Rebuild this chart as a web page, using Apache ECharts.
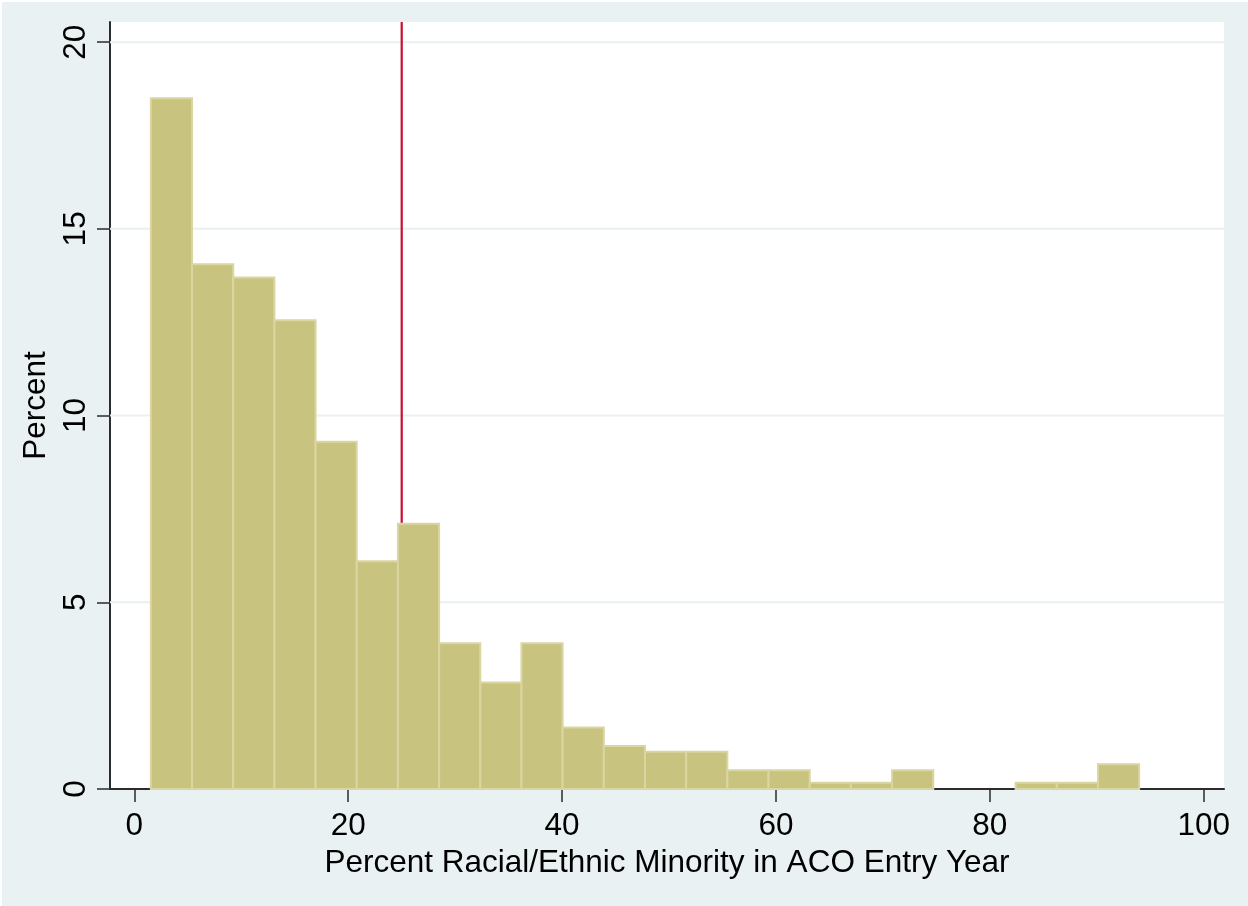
<!DOCTYPE html>
<html>
<head>
<meta charset="utf-8">
<script src="https://cdn.jsdelivr.net/npm/echarts@6/dist/echarts.min.js"></script>
<style>
  html, body { margin: 0; padding: 0; background: #ffffff; }
  #chart { position: absolute; left: 2px; top: 2px; width: 1246px; height: 904px; }
</style>
</head>
<body>
<div id="chart"></div>
<script>
// ---- data ----
const binStart = 1.54;          // lower edge of first bin
const binWidth = 3.851;         // histogram bin width
const percents = [18.5, 14.05, 13.7, 12.55, 9.3, 6.1, 7.1, 3.9, 2.85, 3.9,
                  1.65, 1.15, 1.0, 1.0, 0.5, 0.5, 0.17, 0.17, 0.5, 0,
                  0, 0.17, 0.17, 0.66];
const xTicks = [0, 20, 40, 60, 80, 100];
const yTicks = [0, 5, 10, 15, 20];
const gridYs = [5, 10, 15, 20];
const refLineX = 25;
const xMin = -2.28, xMax = 101.9, yMin = 0, yMax = 20.54;
const xTitle = 'Percent Racial/Ethnic Minority in ACO Entry Year';
const yTitle = 'Percent';

const binData = percents.map((p, i) => [binStart + i * binWidth, binStart + (i + 1) * binWidth, p]);

const FONT = 'Liberation Sans, Arial, sans-serif';
const FS = 31.5;
const chart = echarts.init(document.getElementById('chart'));
chart.setOption({
  backgroundColor: '#E9F1F3',
  animation: false,
  grid: { left: 108, top: 20, right: 24, bottom: 117, show: true, backgroundColor: '#ffffff', borderWidth: 0 },
  xAxis: {
    type: 'value', min: xMin, max: xMax,
    name: xTitle, nameLocation: 'middle', nameGap: 52,
    nameTextStyle: { fontFamily: FONT, fontSize: FS, color: '#000' },
    axisLine: { show: true, onZero: false, lineStyle: { color: '#2b2b2b', width: 2 } },
    axisTick: { show: true, length: 13, customValues: xTicks, lineStyle: { color: '#2b2b2b', width: 1.5 } },
    axisLabel: { customValues: xTicks, margin: 21, fontFamily: FONT, fontSize: FS, color: '#000' },
    splitLine: { show: false }
  },
  yAxis: {
    type: 'value', min: yMin, max: yMax,
    name: yTitle, nameLocation: 'middle', nameGap: 51,
    nameTextStyle: { fontFamily: FONT, fontSize: FS, color: '#000' },
    axisLine: { show: true, onZero: false, lineStyle: { color: '#2b2b2b', width: 2 } },
    axisTick: { show: true, length: 13, customValues: yTicks, lineStyle: { color: '#2b2b2b', width: 1.5 } },
    axisLabel: { customValues: yTicks, rotate: 90, margin: 18, fontFamily: FONT, fontSize: FS, color: '#000' },
    splitLine: { show: false }
  },
  series: [
    {
      type: 'custom', z: 1, silent: true,
      data: gridYs,
      encode: { y: 0 },
      renderItem: (params, api) => {
        const v = api.value(0);
        const a = api.coord([xMin, v]), b = api.coord([xMax, v]);
        return { type: 'line', shape: { x1: a[0], y1: a[1], x2: b[0], y2: b[1] },
                 style: { stroke: '#E9F1F3', lineWidth: 2 } };
      }
    },
    {
      type: 'line', z: 2, silent: true, symbol: 'none',
      data: [[refLineX, yMin], [refLineX, yMax]],
      lineStyle: { color: '#C8102E', width: 2.2 }
    },
    {
      type: 'custom', z: 3, silent: true,
      data: binData,
      encode: { x: [0, 1], y: 2 },
      renderItem: (params, api) => {
        const lo = api.value(0), hi = api.value(1), h = api.value(2);
        if (!(h > 0)) return null;
        const p0 = api.coord([lo, h]), p1 = api.coord([hi, 0]);
        return { type: 'rect',
                 shape: { x: p0[0], y: p0[1], width: p1[0] - p0[0], height: p1[1] - p0[1] },
                 style: { fill: '#C9C380', stroke: '#DAD6A2', lineWidth: 2 } };
      }
    }
  ]
});
</script>
</body>
</html>
